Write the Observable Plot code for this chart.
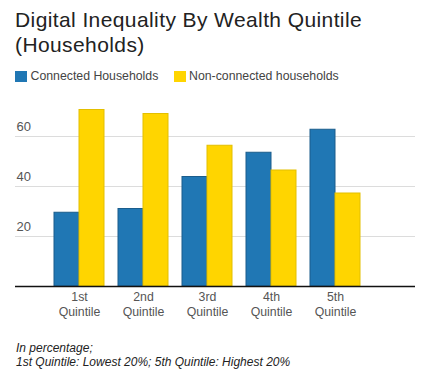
<!DOCTYPE html>
<html>
<head>
<meta charset="utf-8">
<script src="https://cdn.jsdelivr.net/npm/d3@7"></script>
<script src="https://cdn.jsdelivr.net/npm/@observablehq/plot@0.6"></script>
<style>
  body { margin: 0; background: #fff; font-family: "Liberation Sans", Arial, sans-serif; }
  #wrap { position: relative; width: 427px; height: 374px; overflow: hidden; }
  .title { position: absolute; left: 15px; top: 6.5px; font-size: 21px; letter-spacing: 0.4px; line-height: 25px; color: #222; white-space: nowrap; }
  .sw { position: absolute; width: 12px; height: 11px; top: 71px; }
  .lt { position: absolute; top: 69.4px; font-size: 12.3px; line-height: 14px; color: #444; white-space: nowrap; }
  .cap { position: absolute; left: 16px; top: 341px; font-size: 12px; line-height: 14px; font-style: italic; color: #222; white-space: nowrap; }
  #chart { position: absolute; left: 0; top: 95px; }
</style>
</head>
<body>
<div id="wrap">
  <div class="title">Digital Inequality By Wealth Quintile<br>(Households)</div>
  <div class="sw" style="left:15px;background:#2077b4;"></div>
  <div class="lt" style="left:30.5px;">Connected Households</div>
  <div class="sw" style="left:174px;background:#ffd500;"></div>
  <div class="lt" style="left:189px;">Non-connected households</div>
  <div id="chart"></div>
  <div class="cap">In percentage;<br>1st Quintile: Lowest 20%; 5th Quintile: Highest 20%</div>
</div>
<script>
const quintiles = ["1st", "2nd", "3rd", "4th", "5th"];
const connected = [29.5, 31, 43.8, 53.5, 62.7];
const nonConnected = [70.6, 69, 56.3, 46.4, 37.2];
const yTicks = [20, 40, 60];

const blueData = quintiles.map((q, i) => ({q, v: connected[i]}));
const yellowData = quintiles.map((q, i) => ({q, v: nonConnected[i]}));

const plot = Plot.plot({
  width: 427,
  height: 230,
  marginLeft: 15,
  marginRight: 12,
  marginTop: 1,
  marginBottom: 39,
  style: {fontFamily: "'Liberation Sans', Arial, sans-serif", background: "transparent"},
  x: {type: "band", domain: quintiles, paddingInner: 0.21875, paddingOuter: 0.734, align: 0.41, axis: null, label: null},
  y: {domain: [0, 76], axis: null, label: null},
  marks: [
    Plot.ruleY(yTicks, {stroke: "#dcdcdc", strokeWidth: 1}),
    Plot.text(yTicks, {y: d => d, text: d => String(d), frameAnchor: "left", textAnchor: "start", dx: 1, dy: -10, fontSize: 13, fill: "#555"}),
    Plot.barY(blueData, {x: "q", y: "v", fill: "#2077b4", stroke: "#1b5d8c", strokeWidth: 1, insetRight: 25}),
    Plot.barY(yellowData, {x: "q", y: "v", fill: "#ffd500", stroke: "#e3bf00", strokeWidth: 1, insetLeft: 25}),
    Plot.ruleY([0], {stroke: "#111", strokeWidth: 1.5}),
    Plot.axisX({tickSize: 0, tickPadding: 4.5, fontSize: 12.3, fill: "#555", lineHeight: 1.18, label: null, tickFormat: d => d + "\nQuintile"})
  ]
});
document.getElementById("chart").appendChild(plot);
</script>
</body>
</html>
